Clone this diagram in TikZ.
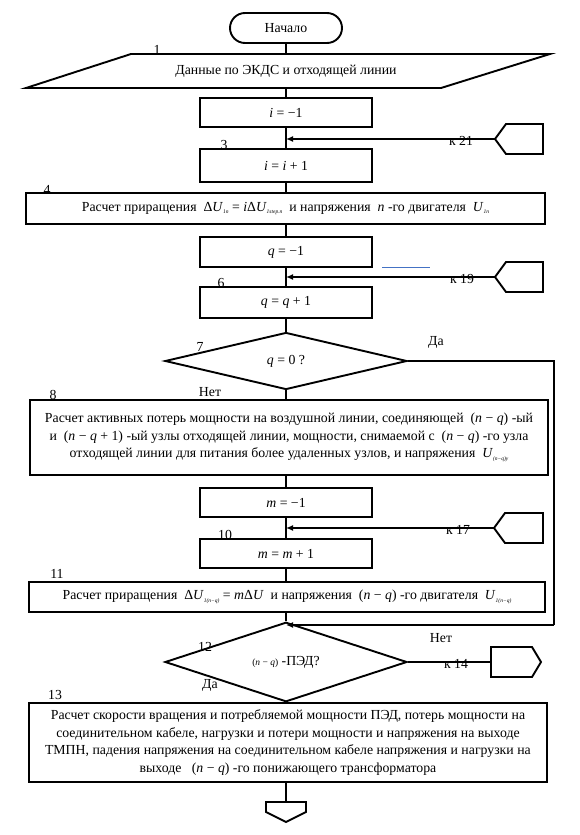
\documentclass[tikz,border=0pt]{standalone}
\usepackage{fontspec}
\setmainfont{Liberation Serif}
\usetikzlibrary{arrows.meta,shapes.geometric}
\newcommand\myfs{\fontsize{13.8}{17.5}\selectfont}
\newcommand\vi[1]{\textit{#1}}
\newcommand\sbs[1]{\raisebox{-0.4ex}{\fontsize{5.5}{6}\selectfont\textit{#1}}}
\newcommand\smallmath[1]{{\fontsize{9.5}{10}\selectfont #1}}
\begin{document}
\begin{tikzpicture}[x=1pt,y=-1pt,line width=1.9pt,
  every node/.style={font=\myfs},
  box/.style={draw,line width=1.9pt,inner sep=0pt,align=center},
  dec/.style={draw,diamond,line width=1.9pt,inner sep=0pt,minimum width=242pt,minimum height=57pt},
  lbl/.style={inner sep=0pt},
  arr/.style={-{Latex[length=7pt,width=6pt]},line width=1.9pt},
  conn/.style={line width=1.9pt,line join=miter}]
\useasboundingbox (0,0) rectangle (579,835);

% start
\node[box,rounded corners=15pt,minimum width=112pt,minimum height=30pt] (start) at (286,28) {Начало};

% data parallelogram
\node[lbl,minimum width=300pt,minimum height=34pt] (data) at (286,71) {Данные по ЭКДС и отходящей линии};
\draw[conn] (131,54) -- (550,54) -- (441,88) -- (26,88) -- cycle;

\node[box,minimum width=172pt,minimum height=29pt] (b2) at (286,112.5) {\vi{i} = −1};
\node[box,minimum width=172pt,minimum height=33pt] (b3) at (286,165.5) {\vi{i} = \vi{i} + 1};
\node[box,minimum width=519pt,minimum height=31pt] (b4) at (285.5,208.5)
  {Расчет приращения \ Δ\vi{U}\sbs{1n} = \vi{i}Δ\vi{U}\sbs{1step.n} \ и напряжения \ \vi{n} -го двигателя \ \vi{U}\sbs{1n}};
\node[box,minimum width=172pt,minimum height=30pt] (b5) at (286,252) {\vi{q} = −1};
\node[box,minimum width=172pt,minimum height=31pt] (b6) at (286,302.5) {\vi{q} = \vi{q} + 1};
\node[dec] (d7) at (286,361) {\vi{q} = 0 ?};
\node[box,minimum width=518pt,minimum height=75pt] (b8) at (289,437.5)
  {Расчет активных потерь мощности на воздушной линии, соединяющей \ (\vi{n} − \vi{q}) -ый\\
   и \ (\vi{n} − \vi{q} + 1) -ый узлы отходящей линии, мощности, снимаемой с \ (\vi{n} − \vi{q}) -го узла\\
   отходящей линии для питания более удаленных узлов, и напряжения \ \vi{U}\sbs{(n−q)y}};
\node[box,minimum width=172pt,minimum height=29pt] (b9) at (286,502.5) {\vi{m} = −1};
\node[box,minimum width=172pt,minimum height=29pt] (b10) at (286,553.5) {\vi{m} = \vi{m} + 1};
\node[box,minimum width=516pt,minimum height=30pt] (b11) at (287,597)
  {Расчет приращения \ Δ\vi{U}\sbs{1(n−q)} = \vi{m}Δ\vi{U} \ и напряжения \ (\vi{n} − \vi{q}) -го двигателя \ \vi{U}\sbs{1(n−q)}};
\node[dec] (d12) at (286,662) {\smallmath{(\vi{n} − \vi{q})} -ПЭД?};
\node[box,minimum width=518pt,minimum height=79pt] (b13) at (288,742.5)
  {Расчет скорости вращения и потребляемой мощности ПЭД, потерь мощности на\\
   соединительном кабеле, нагрузки и потери мощности и напряжения на выходе\\
   ТМПН, падения напряжения на соединительном кабеле напряжения и нагрузки на\\
   выходе \ \ (\vi{n} − \vi{q}) -го понижающего трансформатора};

% end off-page connector
\coordinate (endc) at (286,802);
\draw[conn] (266,802) -- (306,802) -- (306,812) -- (286,822) -- (266,812) -- cycle;

% main vertical connectors
\draw (start.south) -- (start.south |- data.north);
\draw (data.south) -- (data.south |- b2.north);
\draw (b2.south) -- (b2.south |- b3.north);
\draw (b3.south) -- (b3.south |- b4.north);
\draw (b3.south |- b4.south) -- (b3.south |- b5.north);
\draw (b5.south) -- (b5.south |- b6.north);
\draw (b6.south) -- (d7.north);
\draw (d7.south) -- (d7.south |- b8.north);
\draw (d7.south |- b8.south) -- (b9.north);
\draw (b9.south) -- (b10.north);
\draw (b10.south) -- (b10.south |- b11.north);
\draw (b10.south |- b11.south) -- (d12.north);
\draw (d12.south) -- (d12.south |- b13.north);
\draw (d12.south |- b13.south) -- (endc);

% right-side entry connectors
\coordinate (m21) at (286,139);
\coordinate (c21) at (495,139);
\draw[conn] (c21) -- (506,124) -- (543,124) -- (543,154) -- (506,154) -- cycle;
\draw[arr] (c21) -- (m21);
\node[lbl] (t21) at (461,141) {к 21};

\coordinate (m19) at (286,277);
\coordinate (c19) at (495,277);
\draw[conn] (c19) -- (506,262) -- (543,262) -- (543,292) -- (506,292) -- cycle;
\draw[arr] (c19) -- (m19);
\node[lbl] (t19) at (462,279) {к 19};

\coordinate (m17) at (286,528);
\coordinate (c17) at (494,528);
\draw[conn] (c17) -- (505,513) -- (543,513) -- (543,543) -- (505,543) -- cycle;
\draw[arr] (c17) -- (m17);
\node[lbl] (t17) at (458,530) {к 17};

% yes branch of 7
\coordinate (y1) at (554,361);
\coordinate (y2) at (554,625);
\coordinate (merge) at (286,625);
\draw (d7.east) -- (y1) -- (y2);
\draw[arr] (y2) -- (merge);

% no branch of 12
\coordinate (c14) at (491,662);
\draw[conn] (c14) -- (491,647) -- (532,647) -- (541,662) -- (532,677) -- (491,677) -- cycle;
\draw (d12.east) -- (c14);
\node[lbl] (t14) at (456,664) {к 14};

% blue stray line
\draw[line width=0.8pt,color={rgb,255:red,68;green,114;blue,196}] (382,267) -- (430,267);

% labels
\node[lbl] (l1) at (157,50) {1};
\node[lbl] (l3) at (224,145) {3};
\node[lbl] (l4) at (47,190) {4};
\node[lbl] (l6) at (221,283) {6};
\node[lbl] (l7) at (200,347) {7};
\node[lbl] (l8) at (53,395) {8};
\node[lbl] (l10) at (225,535) {10};
\node[lbl] (l11) at (57,574) {11};
\node[lbl] (l12) at (205,647) {12};
\node[lbl] (l13) at (55,695) {13};
\node[lbl] (da1) at (436,342) {Да};
\node[lbl] (net1) at (210,392) {Нет};
\node[lbl] (net2) at (441,638) {Нет};
\node[lbl] (da2) at (210,685) {Да};
\end{tikzpicture}
\end{document}
